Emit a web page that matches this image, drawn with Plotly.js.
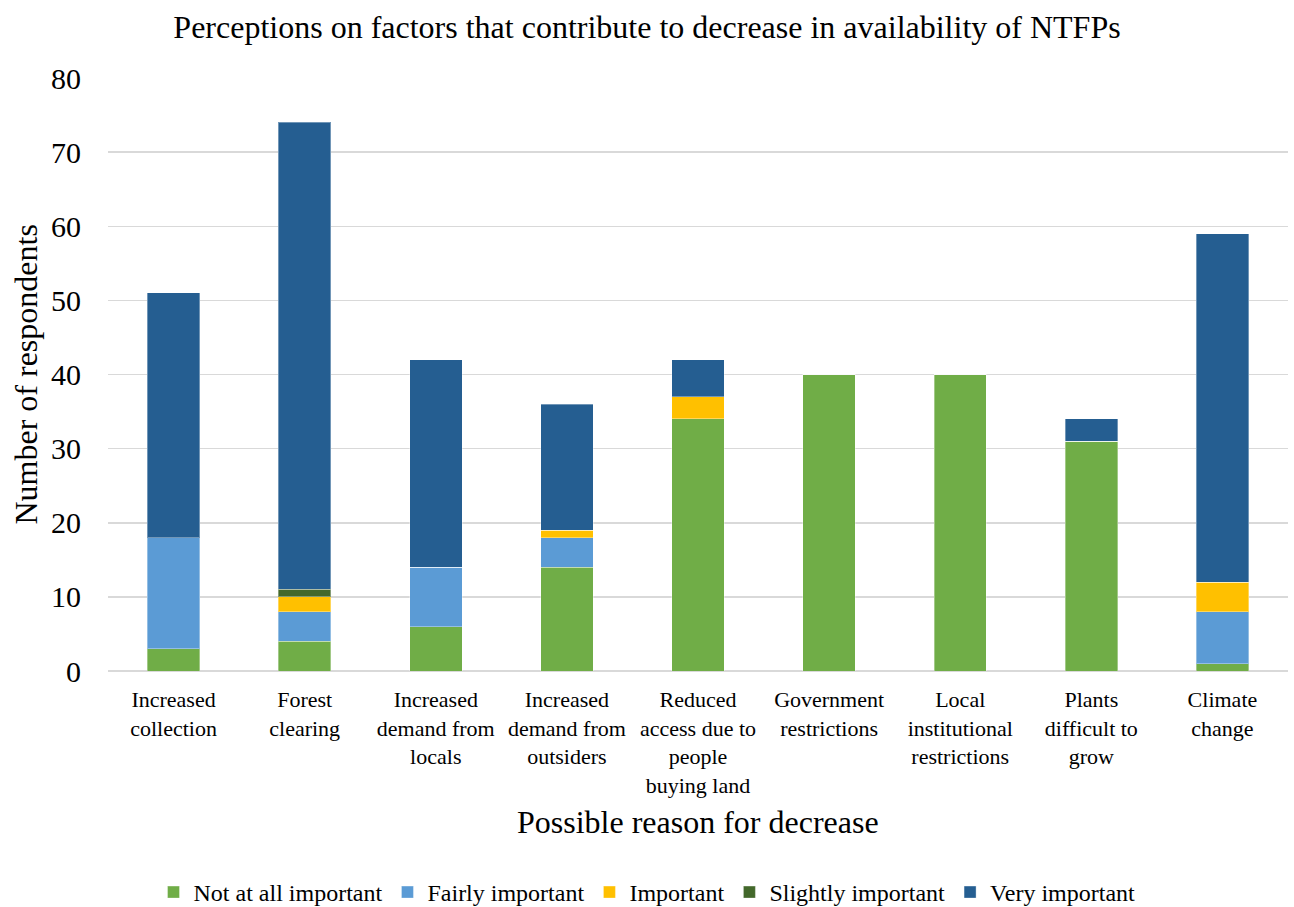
<!DOCTYPE html>
<html>
<head>
<meta charset="utf-8">
<script src="https://cdn.plot.ly/plotly-3.0.1.min.js"></script>
<style>html,body{margin:0;padding:0;background:#fff;}#chart{width:1294px;height:907px;}</style>
</head>
<body>
<div id="chart"></div>
<script>
const categories = [
  "Increased<br>collection",
  "Forest<br>clearing",
  "Increased<br>demand from<br>locals",
  "Increased<br>demand from<br>outsiders",
  "Reduced<br>access due to<br>people<br>buying land",
  "Government<br>restrictions",
  "Local<br>institutional<br>restrictions",
  "Plants<br>difficult to<br>grow",
  "Climate<br>change"
];
const notAtAll   = [3, 4, 6, 14, 34, 40, 40, 31, 1];
const fairly     = [15, 4, 8, 4, 0, 0, 0, 0, 7];
const important  = [0, 2, 0, 1, 3, 0, 0, 0, 4];
const slightly   = [0, 1, 0, 0, 0, 0, 0, 0, 0];
const very       = [33, 63, 28, 17, 5, 0, 0, 3, 47];
const seriesNames = ["Not at all important", "Fairly important", "Important", "Slightly important", "Very important"];
const seriesColors = ["#70AD47", "#5B9BD5", "#FFC000", "#43682B", "#255E91"];
const seriesValues = [notAtAll, fairly, important, slightly, very];

const font = "'Liberation Serif', 'Times New Roman', serif";
const traces = seriesValues.map((vals, i) => ({
  type: "bar",
  name: seriesNames[i],
  x: categories,
  y: vals,
  marker: {color: seriesColors[i], line: {color: "rgba(255,255,255,0.35)", width: 1}},
  hoverinfo: "x+y+name"
}));

const layout = {
  width: 1294, height: 907,
  barmode: "stack",
  bargap: 0.6,
  paper_bgcolor: "#fff", plot_bgcolor: "#fff",
  margin: {l: 108, r: 6, t: 78, b: 236, autoexpand: false},
  font: {family: font, color: "#000"},
  title: {text: "Perceptions on factors that contribute to decrease in availability of NTFPs",
          font: {family: font, size: 32, color: "#000"}, x: 0.5, xanchor: "center", y: 0.970, yanchor: "middle"},
  xaxis: {
    tickfont: {family: font, size: 22, color: "#000"},
    showgrid: false, showline: false, zeroline: false,
    ticks: "", ticklabelstandoff: 13, automargin: false
  },
  yaxis: {
    range: [0, 80], dtick: 10,
    tickfont: {family: font, size: 30, color: "#000"},
    showgrid: true, gridcolor: "#D9D9D9", gridwidth: 1.5,
    zeroline: true, zerolinecolor: "#D9D9D9", zerolinewidth: 1.5,
    showline: false, ticks: "", ticklabelstandoff: 26, automargin: false
  },
  showlegend: true,
  legend: {orientation: "h", xref: "container", yref: "container", x: 0.5, xanchor: "center", y: 0.016, yanchor: "middle",
           font: {family: font, size: 24, color: "#000"}, traceorder: "normal", itemwidth: 30},
  annotations: [
    {text: "Possible reason for decrease", xref: "paper", yref: "paper", x: 0.5, y: -0.2546,
     xanchor: "center", yanchor: "middle", showarrow: false, font: {family: font, size: 32, color: "#000"}},
    {text: "Number of respondents", xref: "paper", yref: "paper", x: -0.0703, y: 0.5,
     xanchor: "center", yanchor: "middle", textangle: -90, showarrow: false, font: {family: font, size: 32, color: "#000"}}
  ]
};
Plotly.newPlot("chart", traces, layout, {displayModeBar: false, staticPlot: true});
</script>
</body>
</html>
